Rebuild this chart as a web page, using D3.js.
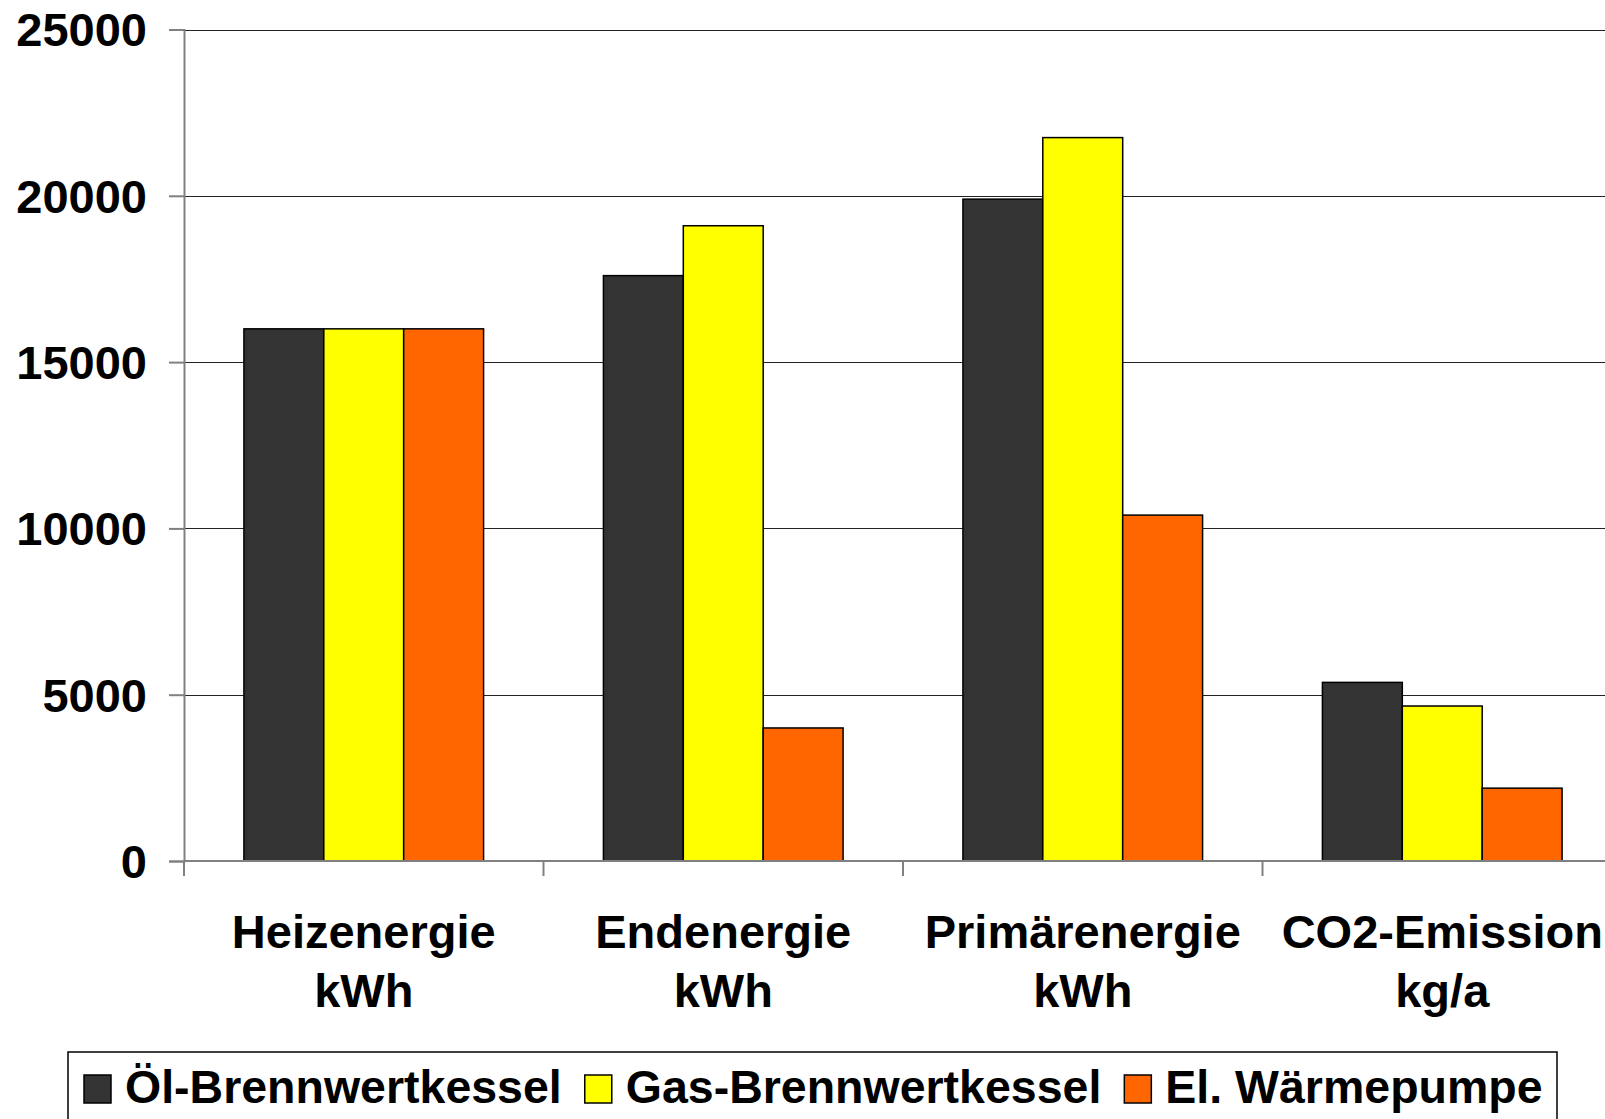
<!DOCTYPE html>
<html>
<head>
<meta charset="utf-8">
<script src="https://cdn.jsdelivr.net/npm/d3@7"></script>
<style>
  html, body { margin: 0; padding: 0; background: #fff; }
  svg { display: block; }
  text { font-family: "Liberation Sans", Arial, sans-serif; font-weight: bold; fill: #000; }
</style>
</head>
<body>
<svg id="chart" width="1605" height="1119"></svg>
<script>
// Kategorien (zweizeilige Achsenbeschriftung)
const categories = ["Heizenergie", "Endenergie", "Primärenergie", "CO2-Emission"];
const categoryUnits = ["kWh", "kWh", "kWh", "kg/a"];

// Heizsysteme
const series = ["Öl-Brennwertkessel", "Gas-Brennwertkessel", "El. Wärmepumpe"];
const seriesColors = ["#333333", "#FFFF00", "#FF6600"];

// Werte je Heizsystem, in Reihenfolge der Kategorien
const oelValues = [16000, 17600, 19900, 5370];
const gasValues = [16000, 19100, 21750, 4660];
const wpValues  = [16000, 4000, 10400, 2190];

const yTicks = [0, 5000, 10000, 15000, 20000, 25000];

const seriesValues = [oelValues, gasValues, wpValues];
const rows = categories.map((c, i) => ({
  category: c,
  values: series.map((s, j) => ({ series: s, value: seriesValues[j][i], color: seriesColors[j] }))
}));

const svg = d3.select("#chart");
const plotLeft = 184, plotTop = 29.5, plotBottom = 861, step = 359.5;
const plotRight = plotLeft + step * categories.length;
const fontSize = 47;
const legendFontSize = 46.5;

const x0 = d3.scaleBand().domain(categories).range([plotLeft, plotRight]).padding(0);
const x1 = d3.scaleBand().domain(series).range([x0.bandwidth() / 6, x0.bandwidth() * 5 / 6]).padding(0);
const y = d3.scaleLinear().domain([0, 25000]).range([plotBottom, plotTop]);

// Gitternetzlinien
const grid = svg.append("g").attr("transform", `translate(${plotLeft},0)`)
  .call(d3.axisLeft(y).tickValues(yTicks).tickSize(-(plotRight - plotLeft)).tickFormat(""));
grid.select(".domain").remove();
grid.selectAll(".tick line").attr("stroke", "#222").attr("stroke-width", 1)
  .attr("shape-rendering", "crispEdges");

// Y-Achse
const yAxis = svg.append("g").attr("transform", `translate(${plotLeft},0)`)
  .call(d3.axisLeft(y).tickValues(yTicks).tickSize(15).tickPadding(22).tickFormat(d3.format("d")));
yAxis.select(".domain").attr("stroke", "#808080").attr("stroke-width", 2);
yAxis.selectAll(".tick line").attr("stroke", "#808080").attr("stroke-width", 2);
yAxis.selectAll(".tick text")
  .attr("font-size", fontSize).attr("font-family", "Liberation Sans, Arial, sans-serif")
  .attr("font-weight", "bold").attr("fill", "#000").attr("dy", "0.35em");

// Balken
const groups = svg.append("g").selectAll("g").data(rows).join("g")
  .attr("transform", d => `translate(${x0(d.category)},0)`);
groups.selectAll("rect").data(d => d.values).join("rect")
  .attr("x", d => x1(d.series))
  .attr("y", d => y(d.value))
  .attr("width", x1.bandwidth())
  .attr("height", d => y(0) - y(d.value))
  .attr("fill", d => d.color)
  .attr("stroke", "#000")
  .attr("stroke-width", 1.5);

// X-Achse mit Trennstrichen zwischen den Kategorien
const xAxis = svg.append("g");
xAxis.append("line")
  .attr("x1", plotLeft).attr("x2", plotRight).attr("y1", y(0)).attr("y2", y(0))
  .attr("stroke", "#808080").attr("stroke-width", 2);
xAxis.selectAll("line.sep").data(categories.map(c => x0(c)).concat([plotRight])).join("line")
  .attr("class", "sep")
  .attr("x1", d => d).attr("x2", d => d)
  .attr("y1", y(0)).attr("y2", y(0) + 15)
  .attr("stroke", "#808080").attr("stroke-width", 2);

const labels = svg.append("g").selectAll("text").data(categories).join("text")
  .attr("x", d => x0(d) + x0.bandwidth() / 2)
  .attr("y", 948)
  .attr("text-anchor", "middle")
  .attr("font-size", fontSize);
labels.append("tspan").attr("x", d => x0(d) + x0.bandwidth() / 2).text(d => d);
labels.append("tspan").attr("x", d => x0(d) + x0.bandwidth() / 2).attr("dy", 58.5)
  .text((d, i) => categoryUnits[i]);

// Legende
const legend = svg.append("g");
legend.append("rect")
  .attr("x", 68).attr("y", 1052).attr("width", 1489).attr("height", 100)
  .attr("fill", "#fff").attr("stroke", "#000").attr("stroke-width", 1.5);
let lx = 84;
series.forEach((s, i) => {
  legend.append("rect")
    .attr("x", lx).attr("y", 1075).attr("width", 27).attr("height", 28)
    .attr("fill", seriesColors[i]).attr("stroke", "#000").attr("stroke-width", 1.5);
  const t = legend.append("text")
    .attr("x", lx + 41).attr("y", 1103).attr("font-size", legendFontSize).text(s);
  lx = lx + 41 + t.node().getComputedTextLength() + 23;
});
</script>
</body>
</html>
